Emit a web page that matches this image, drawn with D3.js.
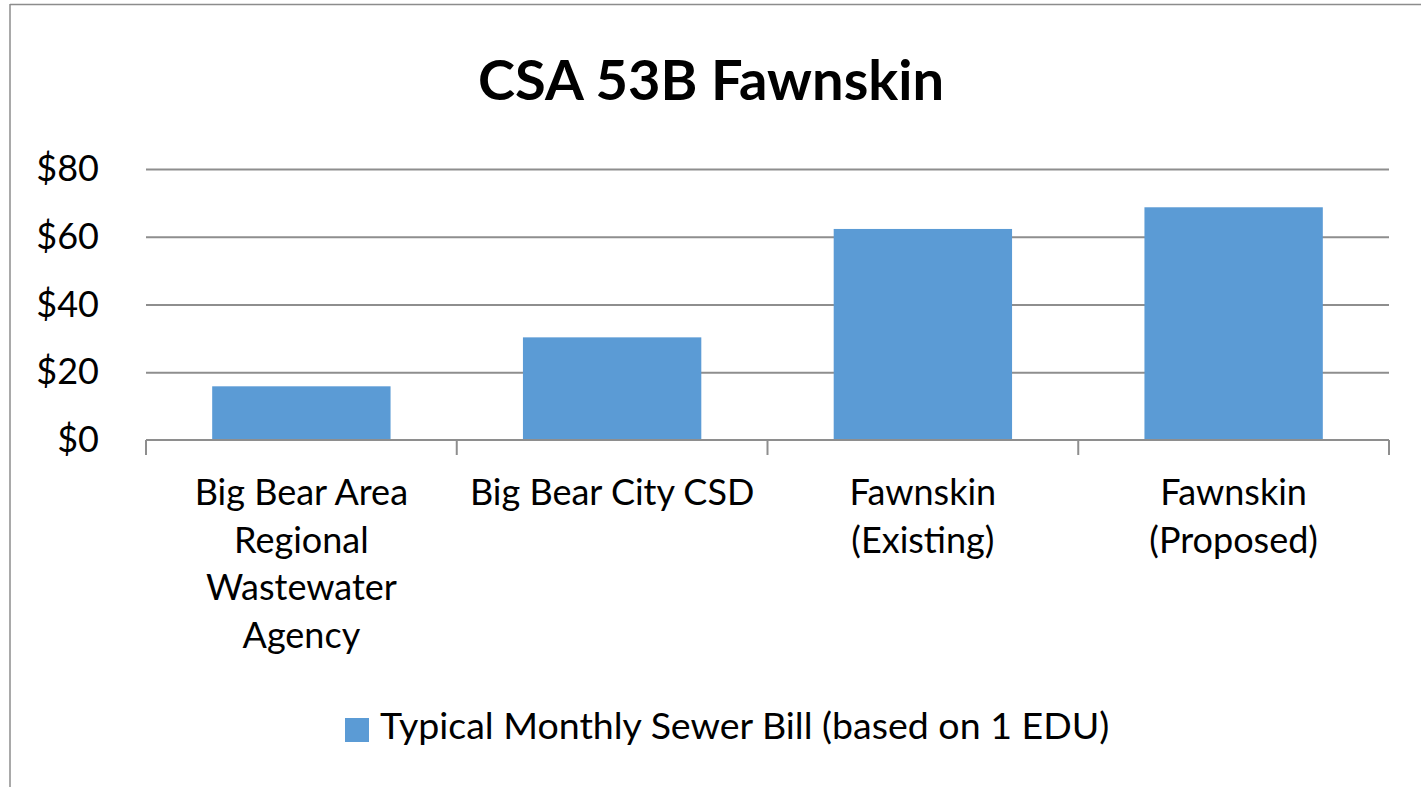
<!DOCTYPE html>
<html>
<head>
<meta charset="utf-8">
<script src="https://cdn.jsdelivr.net/npm/d3@7"></script>
<style>
  body { margin: 0; background: #fff; }
  svg { display: block; font-family: Lato, "Open Sans", sans-serif; }
</style>
</head>
<body>
<figure id="bar" style="margin:0"></figure>
<script>
const TITLE = "CSA 53B Fawnskin";
const CATEGORIES = ["BBARWA", "BBCCSD", "Existing", "Proposed"];
const CATEGORY_LINES = [
  ["Big Bear Area", "Regional", "Wastewater", "Agency"],
  ["Big Bear City CSD"],
  ["Fawnskin", "(Existing)"],
  ["Fawnskin", "(Proposed)"]
];
const VALUES = [15.85, 30.3, 62.3, 68.7];
const Y_TICKS = [0, 20, 40, 60, 80];
const SERIES_NAME = "Typical Monthly Sewer Bill (based on 1 EDU)";

const W = 1421, H = 787;
const margin = {left: 146, right: 32, top: 169, bottom: 347};
const width = W - margin.left - margin.right;
const height = H - margin.top - margin.bottom;
const FONT = 36;

const svg = d3.select("figure#bar")
  .append("svg")
  .attr("width", W)
  .attr("height", H);

// outer frame (left and top edges visible)
svg.append("line").attr("x1", 10).attr("x2", 10).attr("y1", 4).attr("y2", H)
  .attr("stroke", "#8c8c8c").attr("stroke-width", 1.5);
svg.append("line").attr("x1", 10).attr("x2", W).attr("y1", 4.5).attr("y2", 4.5)
  .attr("stroke", "#8c8c8c").attr("stroke-width", 1.5);

svg.append("text")
  .attr("x", 711).attr("y", 100)
  .attr("text-anchor", "middle")
  .attr("font-size", 56).attr("font-weight", "bold")
  .attr("fill", "#000")
  .text(TITLE);

const g = svg.append("g")
  .attr("transform", "translate(" + margin.left + "," + margin.top + ")");

const x = d3.scaleBand()
  .domain(CATEGORIES)
  .range([0, width])
  .paddingInner(0.426)
  .paddingOuter(0.213);

const y = d3.scaleLinear()
  .domain([0, 80])
  .range([height, 0]);

// gridlines
g.append("g")
  .call(d3.axisLeft(y).tickValues(Y_TICKS.slice(1)).tickSize(-width).tickFormat(""))
  .call(s => s.select(".domain").remove())
  .selectAll("line")
  .attr("stroke", "#8e8e8e").attr("stroke-width", 2);

// y labels
g.append("g")
  .call(d3.axisLeft(y).tickValues(Y_TICKS).tickSize(0).tickPadding(47).tickFormat(d => "$" + d))
  .call(s => s.select(".domain").remove())
  .selectAll("text")
  .attr("font-size", FONT).attr("fill", "#000")
  .attr("font-family", "Lato, sans-serif");

// bars
g.selectAll("bars")
  .data(VALUES)
  .enter()
  .append("rect")
  .attr("x", (d, i) => x(CATEGORIES[i]))
  .attr("y", d => y(d))
  .attr("width", x.bandwidth())
  .attr("height", d => height - y(d))
  .attr("fill", "#5b9bd5");

// x axis line with ticks at category boundaries
const step = x.step();
const bounds = d3.range(CATEGORIES.length + 1).map(i => i * step);
g.append("line")
  .attr("x1", 0).attr("x2", width)
  .attr("y1", height).attr("y2", height)
  .attr("stroke", "#8e8e8e").attr("stroke-width", 2);
g.selectAll("xticks")
  .data(bounds)
  .enter()
  .append("line")
  .attr("x1", d => d).attr("x2", d => d)
  .attr("y1", height).attr("y2", height + 15)
  .attr("stroke", "#8e8e8e").attr("stroke-width", 2);

// category labels
const labels = g.selectAll("catlabels")
  .data(CATEGORY_LINES)
  .enter()
  .append("text")
  .attr("text-anchor", "middle")
  .attr("font-size", FONT)
  .attr("fill", "#000")
  .attr("transform", (d, i) => "translate(" + (x(CATEGORIES[i]) + x.bandwidth() / 2) + "," + (height + 65) + ")");
labels.selectAll("tspan")
  .data(d => d)
  .enter()
  .append("tspan")
  .attr("x", 0)
  .attr("y", (d, i) => i * 47.5)
  .text(d => d);

// legend
const legend = svg.append("g").attr("transform", "translate(345,718)");
legend.append("rect").attr("width", 24).attr("height", 24).attr("fill", "#5b9bd5");
legend.append("text")
  .attr("x", 35).attr("y", 21)
  .attr("font-size", 37.5).attr("fill", "#000")
  .text(SERIES_NAME);
</script>
</body>
</html>
